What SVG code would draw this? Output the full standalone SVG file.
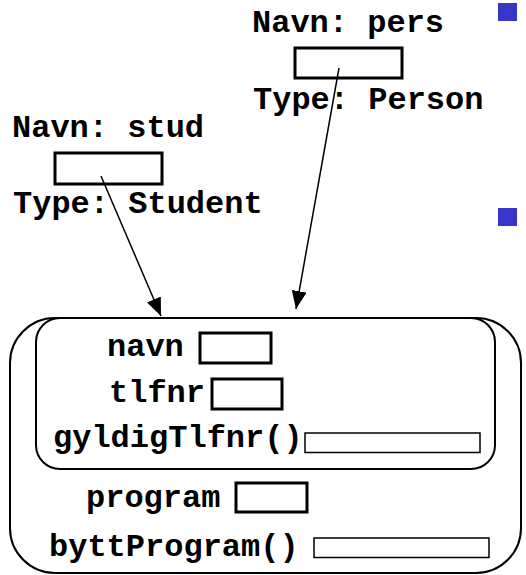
<svg xmlns="http://www.w3.org/2000/svg" width="526" height="575" viewBox="0 0 526 575">
<style>
text{font-family:"Liberation Mono","Courier New",monospace;font-weight:bold;font-size:32px;fill:#000}
.var{fill:#fff;stroke:#000;stroke-width:3}
.slot{fill:#fff;stroke:#000;stroke-width:3}
.meth{fill:#fff;stroke:#000;stroke-width:1.5}
.obj{fill:none;stroke:#000;stroke-width:2}
.bullet{fill:#3636c8}
.conn{stroke:#000;stroke-width:1.5;fill:none;marker-end:url(#arr)}
</style>
<defs>
<marker id="arr" markerUnits="userSpaceOnUse" markerWidth="19" markerHeight="15" refX="18" refY="7.5" orient="auto">
<path d="M0,0 L18,7.5 L0,15 Z" fill="#000"/>
</marker>
</defs>
<rect class="bullet" x="498" y="3" width="19" height="18"/>
<rect class="bullet" x="498" y="208" width="19" height="18"/>
<g id="pers">
<text x="252" y="32">Navn: pers</text>
<rect class="var" x="295" y="48" width="107" height="30"/>
<text x="253" y="109">Type: Person</text>
</g>
<g id="stud">
<text x="12" y="137">Navn: stud</text>
<rect class="var" x="55" y="153" width="107" height="31"/>
<text x="13" y="213">Type: Student</text>
</g>
<g id="studentObj">
<rect class="obj" x="10" y="318" width="511" height="255" rx="45" ry="45"/>
<g id="personPart">
<rect class="obj" x="36" y="318" width="459" height="151" rx="24" ry="24"/>
<text x="107" y="356">navn</text>
<rect class="slot" x="200" y="333" width="71" height="30"/>
<text x="109" y="402">tlfnr</text>
<rect class="slot" x="212" y="379" width="70" height="30"/>
<text x="53" y="447">gyldigTlfnr()</text>
<rect class="meth" x="305" y="433" width="175" height="19.5"/>
</g>
<text x="86" y="507">program</text>
<rect class="slot" x="236" y="483" width="71" height="29"/>
<text x="49" y="556">byttProgram()</text>
<rect class="meth" x="314" y="538" width="175" height="19.5"/>
</g>
<g id="connectors">
<line class="conn" x1="101" y1="176" x2="161" y2="316"/>
<line class="conn" x1="339" y1="68" x2="296" y2="309"/>
</g>
</svg>
